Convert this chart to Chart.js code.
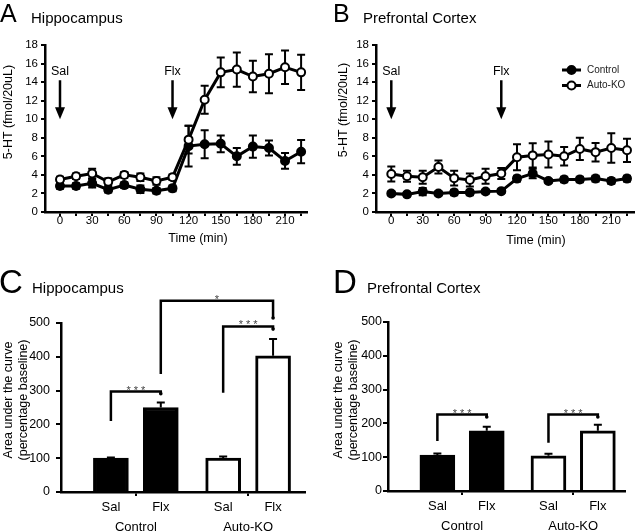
<!DOCTYPE html>
<html>
<head>
<meta charset="utf-8">
<title>5-HT microdialysis</title>
<script src="https://cdn.jsdelivr.net/npm/chart.js@4.4.1/dist/chart.umd.min.js"></script>
<style>
  html, body { margin: 0; padding: 0; background: #fff; }
  #figure { position: relative; width: 640px; height: 531px; overflow: hidden; font-family: "Liberation Sans", Arial, sans-serif; color: #000; }
  .box { position: absolute; }
  .txt { position: absolute; white-space: nowrap; line-height: 1; }
  .vt { position: absolute; white-space: nowrap; text-align: center; line-height: 15px; transform: translate(-50%, -50%) rotate(-90deg); }
  .ht { position: absolute; white-space: nowrap; line-height: 1; transform: translate(-50%, -50%); }
</style>
</head>
<body>
<div id="figure">
  <div class="box" style="left:0;top:0;width:320px;height:260px"><canvas id="chartA"></canvas></div>
  <div class="box" style="left:320px;top:0;width:320px;height:260px"><canvas id="chartB"></canvas></div>
  <div class="box" style="left:0;top:260px;width:320px;height:271px"><canvas id="chartC"></canvas></div>
  <div class="box" style="left:320px;top:260px;width:320px;height:271px"><canvas id="chartD"></canvas></div>

  <div class="txt" style="left:0;top:1px;font-size:25px">A</div>
  <div class="txt" style="left:31px;top:10px;font-size:15px">Hippocampus</div>
  <div class="txt" style="left:333px;top:1px;font-size:25px">B</div>
  <div class="txt" style="left:363px;top:10px;font-size:15px">Prefrontal Cortex</div>
  <div class="txt" style="left:-1px;top:265px;font-size:33px">C</div>
  <div class="txt" style="left:32px;top:280px;font-size:15px">Hippocampus</div>
  <div class="txt" style="left:333px;top:265px;font-size:33px">D</div>
  <div class="txt" style="left:367px;top:280px;font-size:15px">Prefrontal Cortex</div>

  <div class="vt" style="left:8px;top:112px;font-size:12.5px">5-HT (fmol/20uL)</div>
  <div class="ht" style="left:198px;top:238px;font-size:12.5px">Time (min)</div>
  <div class="vt" style="left:343px;top:110px;font-size:12.5px">5-HT (fmol/20uL)</div>
  <div class="ht" style="left:536px;top:240px;font-size:12.5px">Time (min)</div>
  <div class="vt" style="left:15.5px;top:400px;font-size:12.5px">Area under the curve<br>(percentage baseline)</div>
  <div class="vt" style="left:345.5px;top:400px;font-size:12.5px">Area under the curve<br>(percentage baseline)</div>
</div>

<script>
// time course data (fmol/20uL, mean and SEM)
const times = [0, 15, 30, 45, 60, 75, 90, 105, 120, 135, 150, 165, 180, 195, 210, 225];
const timeLabels = [0, 30, 60, 90, 120, 150, 180, 210];
const htTicks = [0, 2, 4, 6, 8, 10, 12, 14, 16, 18];

const hipControl    = [2.8, 2.8, 3.1, 2.4, 2.9, 2.45, 2.3, 2.55, 7.1, 7.3, 7.35, 6.0, 7.05, 6.9, 5.5, 6.5];
const hipControlErr = [0.3, 0.3, 0.45, 0.3, 0.3, 0.4, 0.3, 0.3, 2.2, 1.5, 0.9, 0.9, 1.2, 0.8, 0.85, 1.25];
const hipKO         = [3.5, 3.85, 4.15, 3.25, 4.0, 3.75, 3.35, 3.75, 7.8, 12.1, 15.05, 15.35, 14.6, 14.9, 15.6, 15.05];
const hipKOErr      = [0.3, 0.3, 0.5, 0.4, 0.3, 0.4, 0.4, 0.3, 1.5, 1.5, 1.6, 1.85, 1.7, 2.1, 1.8, 1.9];

const pfcControl    = [2.0, 1.9, 2.2, 2.0, 2.1, 2.1, 2.2, 2.25, 3.6, 4.15, 3.35, 3.5, 3.5, 3.6, 3.35, 3.6];
const pfcControlErr = [0.2, 0.2, 0.4, 0.2, 0.3, 0.3, 0.2, 0.2, 0.3, 0.5, 0.2, 0.3, 0.3, 0.3, 0.3, 0.3];
const pfcKO         = [4.1, 3.85, 3.75, 4.85, 3.65, 3.45, 3.85, 4.15, 5.9, 6.1, 6.2, 6.0, 6.8, 6.45, 6.9, 6.65];
const pfcKOErr      = [0.8, 0.6, 0.7, 0.7, 0.8, 0.7, 0.8, 0.6, 1.4, 1.3, 1.4, 1.0, 1.2, 1.0, 1.6, 1.25];

const legendLabels = ['Control', 'Auto-KO'];

// injection arrows (time, label) in data units
const arrowTimes = [0, 105];
const arrowLabels = ['Sal', 'Flx'];
const arrowFrom = 14.2;
const arrowTo = 10;
const arrowLabelAt = 15.1;

// area under the curve bars
const barLabels = ['Sal', 'Flx', 'Sal', 'Flx'];
const groupLabels = ['Control', 'Auto-KO'];
const barPos = [1, 2, 3.25, 4.25];
const aucTicks = [0, 50, 100, 150, 200, 250, 300, 350, 400, 450, 500];

const hipAUC    = [100, 250, 100, 403];
const hipAUCErr = [2, 15, 5, 50];
const pfcAUC    = [106, 178, 104, 178];
const pfcAUCErr = [5, 12, 6, 18];

// significance brackets: bar a to bar b, low ends and top in data units
const hipSig = [
    { a: 0, b: 1, lowA: 210, lowB: 291, top: 297, text: '***' },
    { a: 2, b: 3, lowA: 294, lowB: 482, top: 490, text: '***' },
    { a: 1, b: 3, lowA: 349, lowB: 515, top: 566, text: '*' }
];
const pfcSig = [
    { a: 0, b: 1, lowA: 148, lowB: 219, top: 226, text: '***' },
    { a: 2, b: 3, lowA: 143, lowB: 219, top: 226, text: '***' }
];

const FONT = '"Liberation Sans", Arial, sans-serif';
Chart.defaults.font.family = FONT;
Chart.defaults.color = '#000';

const groupCenters = groupLabels.map((_, g) => (barPos[2 * g] + barPos[2 * g + 1]) / 2);
const barTickValues = [...barPos, ...groupCenters].sort((a, b) => a - b);

function barTickLabel(v) {
    const i = barPos.indexOf(v);
    if (i >= 0) return barLabels[i];
    const g = groupCenters.indexOf(v);
    return g >= 0 ? ['', groupLabels[g]] : '';
}

const errorBarPlugin = {
    id: 'errorBars',
    beforeDatasetsDraw(chart) {
        const { ctx } = chart;
        const y = chart.scales.y;
        const upOnly = chart.config.type === 'bar';
        chart.data.datasets.forEach((ds, i) => {
            if (!ds.errorBars) return;
            const meta = chart.getDatasetMeta(i);
            ctx.save();
            ctx.strokeStyle = '#000';
            ctx.lineWidth = 2;
            const cap = 4;
            meta.data.forEach((el, j) => {
                const v = ds.data[j].y;
                const e = ds.errorBars[j];
                const yHi = y.getPixelForValue(v + e);
                const yLo = upOnly ? y.getPixelForValue(v) : y.getPixelForValue(v - e);
                ctx.beginPath();
                ctx.moveTo(el.x, yLo);
                ctx.lineTo(el.x, yHi);
                ctx.moveTo(el.x - cap, yHi);
                ctx.lineTo(el.x + cap, yHi);
                if (!upOnly) {
                    ctx.moveTo(el.x - cap, yLo);
                    ctx.lineTo(el.x + cap, yLo);
                }
                ctx.stroke();
            });
            ctx.restore();
        });
    }
};

const arrowPlugin = {
    id: 'arrows',
    afterDatasetsDraw(chart) {
        const { ctx } = chart;
        const x = chart.scales.x, y = chart.scales.y;
        ctx.save();
        ctx.fillStyle = '#000';
        ctx.strokeStyle = '#000';
        ctx.lineWidth = 2.5;
        ctx.font = '12.5px ' + FONT;
        ctx.textAlign = 'center';
        ctx.textBaseline = 'middle';
        arrowTimes.forEach((t, i) => {
            const px = x.getPixelForValue(t);
            const yTop = y.getPixelForValue(arrowFrom);
            const yTip = y.getPixelForValue(arrowTo);
            ctx.beginPath();
            ctx.moveTo(px, yTop);
            ctx.lineTo(px, yTip - 8);
            ctx.stroke();
            ctx.beginPath();
            ctx.moveTo(px - 5, yTip - 12);
            ctx.lineTo(px + 5, yTip - 12);
            ctx.lineTo(px, yTip);
            ctx.closePath();
            ctx.fill();
            ctx.fillText(arrowLabels[i], px, y.getPixelForValue(arrowLabelAt));
        });
        ctx.restore();
    }
};

const timeLegendPlugin = {
    id: 'timeLegend',
    afterDraw(chart, args, opts) {
        if (!opts.show) return;
        const { ctx, chartArea } = chart;
        const x0 = chartArea.right - 72;
        ctx.save();
        ctx.font = '10px ' + FONT;
        ctx.textBaseline = 'middle';
        ctx.textAlign = 'left';
        chart.data.datasets.forEach((ds, i) => {
            const yy = chartArea.top + 25 + i * 15.5;
            ctx.strokeStyle = '#000';
            ctx.lineWidth = 3;
            ctx.beginPath();
            ctx.moveTo(x0, yy);
            ctx.lineTo(x0 + 19, yy);
            ctx.stroke();
            ctx.beginPath();
            ctx.arc(x0 + 9.5, yy, 4, 0, Math.PI * 2);
            ctx.fillStyle = ds.pointBackgroundColor;
            ctx.fill();
            ctx.lineWidth = 2;
            ctx.stroke();
            ctx.fillStyle = '#222';
            ctx.fillText(legendLabels[i], x0 + 25, yy);
        });
        ctx.restore();
    }
};

const bracketPlugin = {
    id: 'brackets',
    afterDatasetsDraw(chart) {
        const items = chart.config.data.brackets;
        if (!items) return;
        const { ctx } = chart;
        const x = chart.scales.x, y = chart.scales.y;
        ctx.save();
        ctx.strokeStyle = '#000';
        ctx.lineWidth = 2.5;
        ctx.lineJoin = 'miter';
        ctx.font = '11px ' + FONT;
        ctx.letterSpacing = '3px';
        ctx.textAlign = 'center';
        ctx.textBaseline = 'alphabetic';
        items.forEach(b => {
            const xa = x.getPixelForValue(barPos[b.a]);
            const xb = x.getPixelForValue(barPos[b.b]);
            const yt = y.getPixelForValue(b.top);
            ctx.beginPath();
            ctx.moveTo(xa, y.getPixelForValue(b.lowA));
            ctx.lineTo(xa, yt);
            ctx.lineTo(xb, yt);
            ctx.lineTo(xb, y.getPixelForValue(b.lowB));
            ctx.stroke();
            ctx.beginPath();
            ctx.arc(xb, y.getPixelForValue(b.lowB), 1.8, 0, Math.PI * 2);
            ctx.fillStyle = '#000';
            ctx.fill();
            ctx.fillStyle = '#444';
            ctx.fillText(b.text, (xa + xb) / 2 + 1.5, yt + 2);
        });
        ctx.restore();
    }
};

const axisGrid = { drawOnChartArea: false, drawTicks: true, tickLength: 4, color: '#000', lineWidth: 2 };
const axisBorder = { display: true, color: '#000', width: 2.5 };

function timeCourse(id, ctrl, ctrlErr, ko, koErr, box, showLegend) {
    return new Chart(document.getElementById(id), {
        type: 'line',
        data: {
            datasets: [
                {
                    label: legendLabels[0],
                    data: times.map((t, i) => ({ x: t, y: ctrl[i] })),
                    errorBars: ctrlErr,
                    borderColor: '#000',
                    backgroundColor: '#000',
                    pointBackgroundColor: '#000',
                    order: 2
                },
                {
                    label: legendLabels[1],
                    data: times.map((t, i) => ({ x: t, y: ko[i] })),
                    errorBars: koErr,
                    borderColor: '#000',
                    backgroundColor: '#fff',
                    pointBackgroundColor: '#fff',
                    order: 1
                }
            ]
        },
        options: {
            responsive: true,
            maintainAspectRatio: false,
            animation: false,
            devicePixelRatio: 1,
            layout: { padding: { left: 0, top: box.top, right: box.right, bottom: 0 } },
            elements: {
                line: { borderWidth: 3, tension: 0 },
                point: { radius: 4, hoverRadius: 4, borderWidth: 2, borderColor: '#000' }
            },
            plugins: {
                legend: { display: false },
                tooltip: { enabled: false },
                colors: { enabled: false },
                timeLegend: { show: showLegend }
            },
            scales: {
                x: {
                    type: 'linear',
                    min: box.xMin,
                    max: box.xMax,
                    afterBuildTicks: s => { s.ticks = times.map(v => ({ value: v })); },
                    ticks: {
                        callback: v => timeLabels.includes(v) ? String(v) : '',
                        autoSkip: false, maxRotation: 0, minRotation: 0,
                        font: { size: 11.5 }, padding: -2
                    },
                    grid: axisGrid,
                    border: axisBorder,
                    afterFit: s => { s.height = box.axisH; }
                },
                y: {
                    min: 0,
                    max: 18,
                    afterBuildTicks: s => { s.ticks = htTicks.map(v => ({ value: v })); },
                    ticks: { font: { size: 11.5 }, padding: 3 },
                    grid: axisGrid,
                    border: axisBorder,
                    afterFit: s => { s.width = box.axisW; }
                }
            }
        },
        plugins: [errorBarPlugin, arrowPlugin, timeLegendPlugin]
    });
}

function aucChart(id, values, errs, sig, box) {
    return new Chart(document.getElementById(id), {
        type: 'bar',
        data: {
            brackets: sig,
            datasets: [{
                data: barPos.map((p, i) => ({ x: p, y: values[i] })),
                errorBars: errs,
                backgroundColor: barPos.map((_, i) => i < 2 ? '#000' : '#fff'),
                borderColor: '#000',
                borderWidth: 3,
                barThickness: 35
            }]
        },
        options: {
            responsive: true,
            maintainAspectRatio: false,
            animation: false,
            devicePixelRatio: 1,
            layout: { padding: { left: 0, top: box.top, right: box.right, bottom: 0 } },
            plugins: {
                legend: { display: false },
                tooltip: { enabled: false },
                colors: { enabled: false }
            },
            scales: {
                x: {
                    type: 'linear',
                    offset: false,
                    min: 0,
                    max: box.xMax,
                    afterBuildTicks: s => { s.ticks = barTickValues.map(v => ({ value: v })); },
                    ticks: {
                        callback: v => barTickLabel(v),
                        autoSkip: false, maxRotation: 0, minRotation: 0,
                        font: { size: 13, lineHeight: 1.5 }, padding: 2
                    },
                    grid: {
                        offset: false,
                        drawOnChartArea: false, drawTicks: true, tickLength: 4, lineWidth: 2,
                        tickColor: c => (c.tick && groupCenters.includes(c.tick.value)) ? '#000' : 'rgba(0,0,0,0)'
                    },
                    border: axisBorder,
                    afterFit: s => { s.height = box.axisH; }
                },
                y: {
                    min: 0,
                    max: 500,
                    afterBuildTicks: s => { s.ticks = aucTicks.map(v => ({ value: v })); },
                    ticks: { callback: v => v % 100 === 0 ? String(v) : '', font: { size: 12.5 }, padding: box.tickPad },
                    grid: { drawOnChartArea: false, drawTicks: true, tickLength: 5, color: '#000', lineWidth: 2 },
                    border: axisBorder,
                    afterFit: s => { s.width = box.axisW; }
                }
            }
        },
        plugins: [errorBarPlugin, bracketPlugin]
    });
}

timeCourse('chartA', hipControl, hipControlErr, hipKO, hipKOErr,
    { top: 45, right: 13, axisW: 45, axisH: 48, xMin: -14, xMax: 230.5 }, false);
timeCourse('chartB', pfcControl, pfcControlErr, pfcKO, pfcKOErr,
    { top: 45, right: 0, axisW: 56, axisH: 48, xMin: -14.6, xMax: 231.7 }, true);
aucChart('chartC', hipAUC, hipAUCErr, hipSig,
    { top: 63, right: 15, axisW: 61, axisH: 39, xMax: 4.89, tickPad: 6 });
aucChart('chartD', pfcAUC, pfcAUCErr, pfcSig,
    { top: 62, right: 15, axisW: 68, axisH: 40, xMax: 4.8, tickPad: 1 });
</script>
</body>
</html>
